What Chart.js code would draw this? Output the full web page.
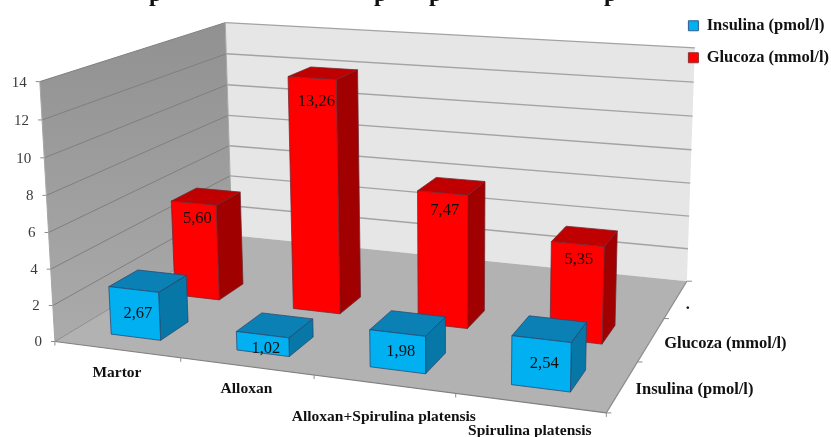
<!DOCTYPE html>
<html>
<head>
<meta charset="utf-8">
<title>Insulina si glucoza</title>
<script src="https://cdn.jsdelivr.net/npm/chart.js@4/dist/chart.umd.js"></script>
<style>
  html, body { margin: 0; padding: 0; background: #fff; }
  canvas { display: block; }
</style>
</head>
<body>
<canvas id="chart" width="831" height="437"></canvas>
<script>
const categories = ['Martor', 'Alloxan', 'Alloxan+Spirulina platensis', 'Spirulina platensis'];
const depthLabels = ['Insulina (pmol/l)', 'Glucoza (mmol/l)', '.'];
const insulina = [2.67, 1.02, 1.98, 2.54];
const glucoza = [5.60, 13.26, 7.47, 5.35];
const yMax = 14;
const yStep = 2;

const SERIF = '"Liberation Serif", "Times New Roman", serif';

// corners of the plot box on screen: [x, z, h] -> [px, py]
const boxCorners = [
  [[0, 0, 0], [55, 342]],
  [[1, 0, 0], [606, 413]],
  [[1, 1, 0], [687, 281]],
  [[0, 1, 0], [232, 235]],
  [[0, 0, 1], [40, 81]],
  [[0, 1, 1], [225, 23]],
  [[1, 1, 1], [695, 48]]
];

// gauss-jordan, good enough for the 11x11 system below
function solve(A, b) {
  const n = b.length;
  const m = A.map((row, i) => [...row, b[i]]);
  for (let c = 0; c < n; c++) {
    let piv = c;
    for (let r = c + 1; r < n; r++) if (Math.abs(m[r][c]) > Math.abs(m[piv][c])) piv = r;
    [m[c], m[piv]] = [m[piv], m[c]];
    for (let r = 0; r < n; r++) {
      if (r === c) continue;
      const f = m[r][c] / m[c][c];
      for (let k = c; k <= n; k++) m[r][k] -= f * m[c][k];
    }
  }
  return m.map((row, i) => row[n] / row[i]);
}

// least squares camera matrix from the box corners
function fitCamera(points) {
  const rows = [], rhs = [];
  points.forEach(([[x, z, h], [X, Y]]) => {
    rows.push([x, z, h, 1, 0, 0, 0, 0, -X * x, -X * z, -X * h]);
    rhs.push(X);
    rows.push([0, 0, 0, 0, x, z, h, 1, -Y * x, -Y * z, -Y * h]);
    rhs.push(Y);
  });
  const ata = Array.from({ length: 11 }, (_, i) =>
    Array.from({ length: 11 }, (_, j) => rows.reduce((s, r) => s + r[i] * r[j], 0)));
  const atb = Array.from({ length: 11 }, (_, i) => rows.reduce((s, r, k) => s + r[i] * rhs[k], 0));
  return solve(ata, atb);
}

const cam = fitCamera(boxCorners);

function project(x, z, h) {
  const w = cam[8] * x + cam[9] * z + cam[10] * h + 1;
  return [
    (cam[0] * x + cam[1] * z + cam[2] * h + cam[3]) / w,
    (cam[4] * x + cam[5] * z + cam[6] * h + cam[7]) / w
  ];
}

function face(ctx, pts, fill, stroke, lineWidth) {
  ctx.beginPath();
  pts.forEach((p, i) => (i ? ctx.lineTo(p[0], p[1]) : ctx.moveTo(p[0], p[1])));
  ctx.closePath();
  if (fill) { ctx.fillStyle = fill; ctx.fill(); }
  if (stroke) { ctx.strokeStyle = stroke; ctx.lineWidth = lineWidth || 1; ctx.stroke(); }
}

function segment(ctx, a, b, color, width) {
  ctx.beginPath();
  ctx.moveTo(a[0], a[1]);
  ctx.lineTo(b[0], b[1]);
  ctx.strokeStyle = color;
  ctx.lineWidth = width;
  ctx.stroke();
}

// bar type that takes the element geometry from the scales and draws it as a box
class Bar3dController extends Chart.BarController {
  draw() {
    const { ctx, chartArea: area, scales } = this.chart;
    const ds = this.getDataset();
    const slot = 1 / depthLabels.length;
    const zc = (scales.depth.getPixelForValue(this.index) - area.left) / area.width;
    const z0 = zc - slot * ds.depthPercentage / 2;
    const z1 = zc + slot * ds.depthPercentage / 2;

    ctx.save();
    this._cachedMeta.data.forEach((bar, i) => {
      const x0 = (bar.x - bar.width / 2 - area.left) / area.width;
      const x1 = (bar.x + bar.width / 2 - area.left) / area.width;
      const top = (area.bottom - bar.y) / area.height;
      const base = (area.bottom - bar.base) / area.height;

      const fbl = project(x0, z0, base), fbr = project(x1, z0, base);
      const ftl = project(x0, z0, top), ftr = project(x1, z0, top);
      const bbr = project(x1, z1, base), btr = project(x1, z1, top), btl = project(x0, z1, top);

      face(ctx, [fbr, bbr, btr, ftr], ds.sideColor, ds.edgeColor);
      face(ctx, [ftl, ftr, btr, btl], ds.topColor, ds.edgeColor);
      face(ctx, [fbl, fbr, ftr, ftl], ds.backgroundColor, ds.edgeColor);

      // value label sits on the front face
      const cx = (fbl[0] + fbr[0] + ftl[0] + ftr[0]) / 4;
      const topY = (ftl[1] + ftr[1]) / 2;
      const bottomY = (fbl[1] + fbr[1]) / 2;
      const ly = ds.labelNearTop
        ? topY + 10 + 0.06 * (bottomY - topY)
        : Math.max(topY + 14, (topY + bottomY) / 2);
      ctx.fillStyle = '#111';
      ctx.font = '16.5px ' + SERIF;
      ctx.textAlign = 'center';
      ctx.textBaseline = 'middle';
      ctx.fillText(ds.data[i].toFixed(2).replace('.', ','), cx + ds.labelShift, ly);
    });
    ctx.restore();
  }
}
Bar3dController.id = 'bar3d';
Chart.register(Bar3dController);

const catLabelDrop = [23, 23, 33, 28];
const depthLabelShift = [[13, 3], [13, 4], [10, 6]];

// walls, floor, gridlines and the three axes, painted before the legend and the bars
const boxPlugin = {
  id: 'box3d',
  beforeDraw(chart) {
    const { ctx, chartArea: area, scales } = chart;
    const yScale = scales.y;
    ctx.save();

    const sideFill = ctx.createLinearGradient(0, 23, 0, 342);
    sideFill.addColorStop(0, '#919191');
    sideFill.addColorStop(1, '#ababab');
    face(ctx, [project(0, 0, 0), project(0, 1, 0), project(0, 1, 1), project(0, 0, 1)], sideFill);
    face(ctx, [project(0, 1, 0), project(1, 1, 0), project(1, 1, 1), project(0, 1, 1)], '#e6e6e6');
    face(ctx, [project(0, 0, 0), project(1, 0, 0), project(1, 1, 0), project(0, 1, 0)], '#b2b2b2');

    // horizontal grid follows the value scale
    yScale.ticks.forEach(t => {
      const h = (area.bottom - yScale.getPixelForValue(t.value)) / area.height;
      if (h > 0) {
        segment(ctx, project(0, 0, h), project(0, 1, h), '#7f7f7f', 1);
        segment(ctx, project(0, 1, h), project(1, 1, h), '#a3a3a3', 1.4);
      }
      const p = project(0, 0, h);
      segment(ctx, p, [p[0] - 4, p[1]], '#8c8c8c', 1);
      ctx.fillStyle = '#3a3a3a';
      ctx.font = '15px ' + SERIF;
      ctx.textAlign = 'right';
      ctx.textBaseline = 'middle';
      ctx.fillText(t.label, p[0] - 13, p[1] + 1);
    });

    segment(ctx, project(0, 0, 0), project(0, 0, 1), '#a6a6a6', 1);
    segment(ctx, project(0, 1, 0), project(0, 1, 1), '#a6a6a6', 1);
    segment(ctx, project(0, 0, 0), project(1, 0, 0), '#808080', 1.2);
    segment(ctx, project(1, 0, 0), project(1, 1, 0), '#8c8c8c', 1.2);
    segment(ctx, project(0, 0, 0), project(0, 1, 0), '#8c8c8c', 1);

    // category axis along the front edge
    ctx.font = 'bold 15.5px ' + SERIF;
    ctx.fillStyle = '#111';
    ctx.textAlign = 'center';
    ctx.textBaseline = 'middle';
    for (let i = 0; i <= categories.length; i++) {
      const p = project(i / categories.length, 0, 0);
      segment(ctx, p, [p[0], p[1] + 4], '#8c8c8c', 1);
    }
    categories.forEach((name, i) => {
      const p = project((scales.x.getPixelForValue(i) - area.left) / area.width, 0, 0);
      ctx.fillText(name, p[0], p[1] + catLabelDrop[i]);
    });

    // depth axis along the right edge
    ctx.font = 'bold 16.5px ' + SERIF;
    ctx.textAlign = 'left';
    for (let i = 0; i <= depthLabels.length; i++) {
      const p = project(1, i / depthLabels.length, 0);
      segment(ctx, p, [p[0] + 5, p[1]], '#8c8c8c', 1);
    }
    depthLabels.forEach((name, i) => {
      const z = (scales.depth.getPixelForValue(i) - area.left) / area.width;
      const p = project(1, z, 0);
      ctx.fillText(name, p[0] + depthLabelShift[i][0], p[1] + depthLabelShift[i][1]);
    });

    // heading runs off the top edge, only its descenders stay on the canvas
    ctx.font = 'bold 24px ' + SERIF;
    ctx.fillStyle = '#111';
    ctx.textBaseline = 'alphabetic';
    [149, 374, 429, 604].forEach(x => ctx.fillText('p', x, 1));

    ctx.restore();
  }
};

new Chart(document.getElementById('chart'), {
  type: 'bar3d',
  data: {
    labels: categories,
    datasets: [
      {
        label: depthLabels[0],
        data: insulina,
        backgroundColor: '#00b0f0',
        borderColor: '#2f5f8f',
        borderWidth: 1,
        barPercentage: 0.4,
        topColor: '#0a80b4',
        sideColor: '#0677a6',
        edgeColor: 'rgba(40,70,110,0.75)',
        depthPercentage: 0.44,
        labelNearTop: false,
        labelShift: 3
      },
      {
        label: depthLabels[1],
        data: glucoza,
        backgroundColor: '#ff0000',
        borderColor: '#8f3030',
        borderWidth: 1,
        barPercentage: 0.38,
        topColor: '#c00000',
        sideColor: '#a00000',
        edgeColor: 'rgba(110,40,50,0.75)',
        depthPercentage: 0.44,
        labelNearTop: true,
        labelShift: 2
      }
    ]
  },
  options: {
    responsive: false,
    animation: false,
    grouped: false,
    categoryPercentage: 1,
    layout: { padding: { top: 2, right: -8 } },
    scales: {
      x: { display: false },
      y: { display: false, min: 0, max: yMax, ticks: { stepSize: yStep } },
      depth: { type: 'category', axis: 'x', labels: depthLabels, offset: true, display: false }
    },
    plugins: {
      tooltip: { enabled: false },
      legend: {
        position: 'right',
        align: 'start',
        labels: {
          boxWidth: 10,
          boxHeight: 10,
          padding: 15.5,
          color: '#111',
          font: { family: SERIF, size: 16.5, weight: 'bold' }
        }
      }
    }
  },
  plugins: [boxPlugin]
});
</script>
</body>
</html>
